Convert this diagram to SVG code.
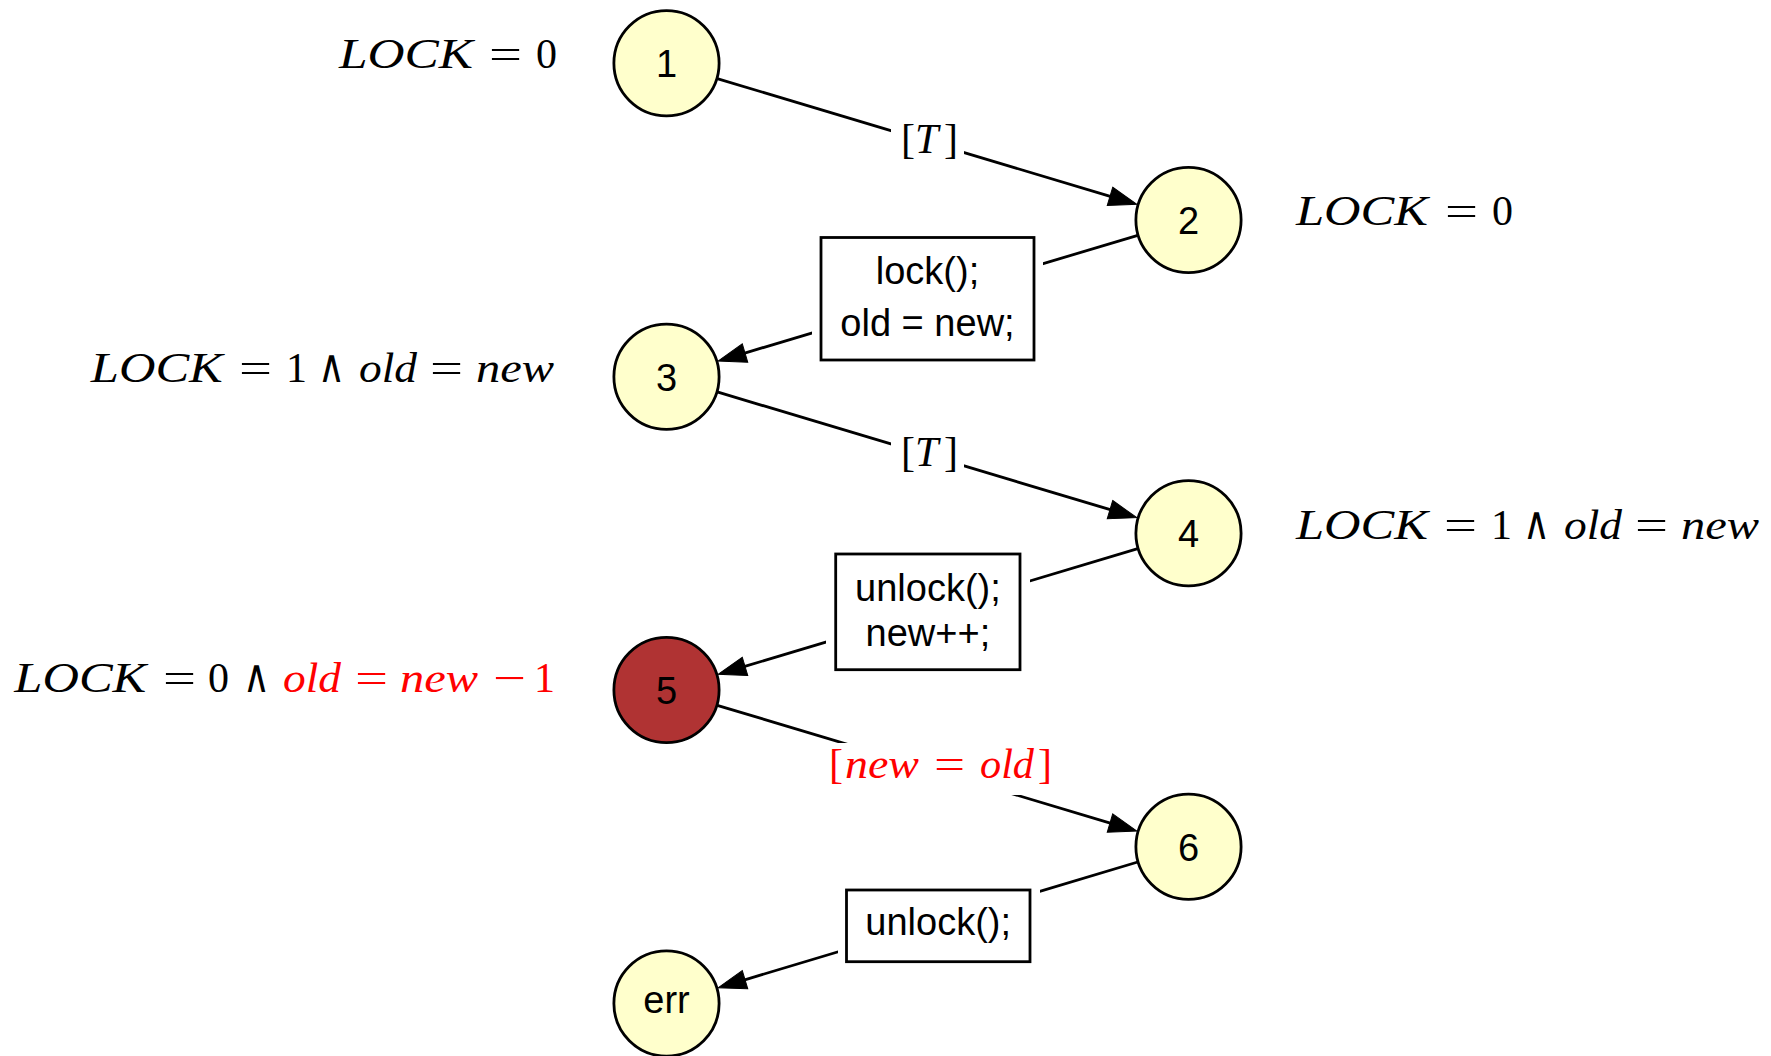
<svg xmlns="http://www.w3.org/2000/svg" width="1771" height="1056" viewBox="0 0 1771 1056">
  <style>
    .node circle { fill: #ffffcc; stroke: #000; stroke-width: 2.8; }
    #n5 circle { fill: #b03333; }
    .lbl { font-family: "Liberation Sans", Arial, sans-serif; font-size: 38px; text-anchor: middle; fill: #000; }
    .edge { stroke: #000; stroke-width: 2.8; fill: none; marker-end: url(#arrow); }
    .mask { fill: #fff; stroke: none; }
    .box { fill: #fff; stroke: #000; stroke-width: 2.8; }
    .math { font-family: "Liberation Serif", "DejaVu Serif", serif; font-size: 42px; fill: #000; }
    .it { font-style: italic; }
    .red { fill: #ff0000; }
    .wedge { font-family: "DejaVu Serif", serif; font-size: 46px; }
  </style>
  <defs>
    <marker id="arrow" markerUnits="userSpaceOnUse" markerWidth="30" markerHeight="20" refX="2" refY="9.5" orient="auto" overflow="visible">
      <path d="M0,0 L28,9.5 L0,19 z" fill="#000" stroke="#000" stroke-width="1"/>
    </marker>
  </defs>

  <rect width="1771" height="1056" fill="#fff"/>

  <!-- transitions -->
  <g id="connectors">
    <path class="edge" d="M717.2,78.6 L1111.9,196.9"/>
    <path class="edge" d="M1137.8,235.3 L743.1,353.6"/>
    <path class="edge" d="M717.2,391.9 L1111.9,510.2"/>
    <path class="edge" d="M1137.8,548.6 L743.1,666.9"/>
    <path class="edge" d="M717.2,705.3 L1111.9,823.6"/>
    <path class="edge" d="M1137.8,862 L743.1,980.3"/>

    <!-- guard 1 -> 2 -->
    <rect class="mask" x="891" y="118" width="73" height="48"/>
    <text class="math" y="152.5"><tspan x="901">[</tspan><tspan class="it" x="915">T</tspan><tspan x="944">]</tspan></text>

    <!-- action 2 -> 3 -->
    <rect class="mask" x="812" y="228" width="231" height="141"/>
    <rect class="box" x="821" y="237.5" width="213" height="122.5"/>
    <text class="lbl" x="927.5" y="284">lock();</text>
    <text class="lbl" x="927.5" y="336">old = new;</text>

    <!-- guard 3 -> 4 -->
    <rect class="mask" x="891" y="431.3" width="73" height="48"/>
    <text class="math" y="465.8"><tspan x="901">[</tspan><tspan class="it" x="915">T</tspan><tspan x="944">]</tspan></text>

    <!-- action 4 -> 5 -->
    <rect class="mask" x="826" y="545" width="204" height="134"/>
    <rect class="box" x="835.7" y="554" width="184.3" height="115.7"/>
    <text class="lbl" x="927.9" y="601">unlock();</text>
    <text class="lbl" x="927.9" y="646">new++;</text>

    <!-- guard 5 -> 6 -->
    <rect class="mask" x="828" y="743" width="220" height="52"/>
    <text class="math red" y="778"><tspan x="829">[</tspan><tspan class="it" x="845" textLength="74" lengthAdjust="spacingAndGlyphs">new</tspan><tspan x="934" textLength="31" lengthAdjust="spacingAndGlyphs">=</tspan><tspan class="it" x="980" textLength="54" lengthAdjust="spacingAndGlyphs">old</tspan><tspan x="1038">]</tspan></text>

    <!-- action 6 -> err -->
    <rect class="mask" x="838" y="881" width="202" height="90"/>
    <rect class="box" x="846.5" y="890" width="183.5" height="71.7"/>
    <text class="lbl" x="938.2" y="935">unlock();</text>
  </g>

  <!-- states -->
  <g id="n1" class="node">
    <circle cx="666.5" cy="63.3" r="52.6"/>
    <text class="lbl" x="666.5" y="77.3">1</text>
  </g>
  <g id="n2" class="node">
    <circle cx="1188.5" cy="220" r="52.6"/>
    <text class="lbl" x="1188.5" y="234">2</text>
  </g>
  <g id="n3" class="node">
    <circle cx="666.5" cy="376.7" r="52.6"/>
    <text class="lbl" x="666.5" y="390.7">3</text>
  </g>
  <g id="n4" class="node">
    <circle cx="1188.5" cy="533.3" r="52.6"/>
    <text class="lbl" x="1188.5" y="547.3">4</text>
  </g>
  <g id="n5" class="node">
    <circle cx="666.5" cy="690" r="52.6"/>
    <text class="lbl" x="666.5" y="704">5</text>
  </g>
  <g id="n6" class="node">
    <circle cx="1188.5" cy="846.7" r="52.6"/>
    <text class="lbl" x="1188.5" y="860.7">6</text>
  </g>
  <g id="nerr" class="node">
    <circle cx="666.5" cy="1003.5" r="52.6"/>
    <text class="lbl" x="666.5" y="1013.3">err</text>
  </g>

  <!-- state invariants -->
  <g id="inv1">
    <text class="math" y="68.3"><tspan class="it" x="339" textLength="134" lengthAdjust="spacingAndGlyphs">LOCK</tspan><tspan x="489" textLength="33" lengthAdjust="spacingAndGlyphs">=</tspan><tspan x="536">0</tspan></text>
  </g>
  <g id="inv2">
    <text class="math" y="224.5"><tspan class="it" x="1296" textLength="132" lengthAdjust="spacingAndGlyphs">LOCK</tspan><tspan x="1445" textLength="33" lengthAdjust="spacingAndGlyphs">=</tspan><tspan x="1492">0</tspan></text>
  </g>
  <g id="inv3">
    <text class="math" y="381.5"><tspan class="it" x="90.8" textLength="132" lengthAdjust="spacingAndGlyphs">LOCK</tspan><tspan x="239" textLength="33" lengthAdjust="spacingAndGlyphs">=</tspan><tspan x="286">1</tspan><tspan class="wedge" x="318" textLength="27" lengthAdjust="spacingAndGlyphs">∧</tspan><tspan class="it" x="359" textLength="58" lengthAdjust="spacingAndGlyphs">old</tspan><tspan x="430" textLength="33" lengthAdjust="spacingAndGlyphs">=</tspan><tspan class="it" x="476" textLength="78" lengthAdjust="spacingAndGlyphs">new</tspan></text>
  </g>
  <g id="inv4">
    <text class="math" y="538.5"><tspan class="it" x="1296" textLength="132" lengthAdjust="spacingAndGlyphs">LOCK</tspan><tspan x="1444" textLength="33" lengthAdjust="spacingAndGlyphs">=</tspan><tspan x="1491">1</tspan><tspan class="wedge" x="1523" textLength="27" lengthAdjust="spacingAndGlyphs">∧</tspan><tspan class="it" x="1564" textLength="58" lengthAdjust="spacingAndGlyphs">old</tspan><tspan x="1635" textLength="33" lengthAdjust="spacingAndGlyphs">=</tspan><tspan class="it" x="1681" textLength="78" lengthAdjust="spacingAndGlyphs">new</tspan></text>
  </g>
  <g id="inv5">
    <text class="math" y="691.7"><tspan class="it" x="14.3" textLength="132" lengthAdjust="spacingAndGlyphs">LOCK</tspan><tspan x="163" textLength="33" lengthAdjust="spacingAndGlyphs">=</tspan><tspan x="208">0</tspan><tspan class="wedge" x="243" textLength="27" lengthAdjust="spacingAndGlyphs">∧</tspan><tspan class="it red" x="283" textLength="58" lengthAdjust="spacingAndGlyphs">old</tspan><tspan class="red" x="355" textLength="33" lengthAdjust="spacingAndGlyphs">=</tspan><tspan class="it red" x="400" textLength="78" lengthAdjust="spacingAndGlyphs">new</tspan><tspan class="red" x="493" textLength="33" lengthAdjust="spacingAndGlyphs">−</tspan><tspan class="red" x="534">1</tspan></text>
  </g>
</svg>
